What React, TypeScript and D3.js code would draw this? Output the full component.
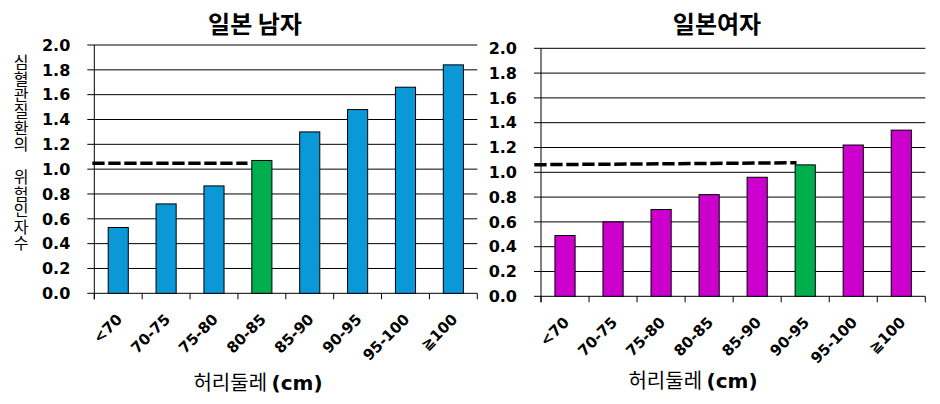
import React from "react";
import * as d3 from "d3";

const categories = ["<70", "70-75", "75-80", "80-85", "85-90", "90-95", "95-100", "≧100"];
const menValues = [0.53, 0.72, 0.865, 1.07, 1.30, 1.48, 1.66, 1.84];
const womenValues = [0.49, 0.60, 0.70, 0.82, 0.96, 1.06, 1.22, 1.34];
const menHighlight = "80-85";
const womenHighlight = "90-95";
const menRef = [1.048, 1.048];
const womenRef = [1.061, 1.077];
const yTicks = [0, 0.2, 0.4, 0.6, 0.8, 1.0, 1.2, 1.4, 1.6, 1.8, 2.0];
const yTitle = "심혈관질환의 위험인자수";

const BLUE = "#0A98D6";
const MAGENTA = "#CC00CC";
const GREEN = "#00AE4E";
const LATIN = "'DejaVu Sans', 'Noto Sans CJK KR', sans-serif";
const KR = "'Noto Sans CJK KR', 'DejaVu Sans', sans-serif";

type PanelProps = {
  x0: number; x1: number; yBase: number; yTop: number;
  values: number[]; color: string; highlight: string;
  ref2: number[]; refStartOff: number; refEndCat: string; refEndFrac: number;
  title: string; titleX: number; xTitleX: number; xTitleY: number;
};

function Panel(p: PanelProps) {
  const x = d3.scaleBand<string>().domain(categories).range([p.x0, p.x1]).paddingInner(0.58).paddingOuter(0.29);
  const xb = d3.scaleBand<string>().domain(categories).range([p.x0, p.x1]);
  const y = d3.scaleLinear().domain([0, 2]).range([p.yBase, p.yTop]);
  const boundaries = categories.map((c) => xb(c) as number).concat([p.x1]);
  const refX1 = (xb(p.refEndCat) as number) + xb.bandwidth() * p.refEndFrac;
  const refLine = d3.line<[number, number]>()([
    [p.x0 + p.refStartOff, y(p.ref2[0])],
    [refX1, y(p.ref2[1])],
  ]) as string;
  return (
    <g>
      <text x={p.titleX} y={33} textAnchor="middle" fontFamily={KR} fontWeight="bold" fontSize={24} fill="#000">{p.title}</text>
      {yTicks.map((t) => (
        <g key={t}>
          <line x1={p.x0 - 7} x2={p.x1} y1={y(t)} y2={y(t)} stroke="#000" strokeWidth={1} />
          <text x={p.x0 - 24} y={y(t)} dy="0.36em" textAnchor="end" fontFamily={LATIN} fontWeight="bold" fontSize={16} fill="#000">{t.toFixed(1)}</text>
        </g>
      ))}
      <line x1={p.x0} x2={p.x0} y1={p.yTop} y2={p.yBase + 6} stroke="#000" strokeWidth={1} />
      {boundaries.map((b, i) => (
        <line key={i} x1={b} x2={b} y1={p.yBase} y2={p.yBase + 6} stroke="#000" strokeWidth={1} />
      ))}
      {categories.map((c, i) => (
        <rect key={c} x={x(c)} y={y(p.values[i])} width={x.bandwidth()} height={p.yBase - y(p.values[i])}
          fill={c === p.highlight ? GREEN : p.color} stroke="#000" strokeWidth={1} />
      ))}
      <path d={refLine} stroke="#000" strokeWidth={3.5} strokeDasharray="12.3 3.7" fill="none" />
      {categories.map((c) => {
        const cx = (xb(c) as number) + xb.bandwidth() / 2 + 5;
        return (
          <text key={c} transform={`translate(${cx},${p.yBase + 27}) rotate(-45)`} textAnchor="end"
            fontFamily={LATIN} fontWeight="bold" fontSize={15} fill="#000">{c}</text>
        );
      })}
      <text x={p.xTitleX} y={p.xTitleY} textAnchor="middle" fontSize={20} fill="#000">
        <tspan fontFamily={KR}>허리둘레 </tspan>
        <tspan fontFamily={LATIN} fontWeight="bold">(cm)</tspan>
      </text>
    </g>
  );
}

export default function App() {
  return (
    <svg width={940} height={404} style={{ position: "absolute", left: 0, top: 0, background: "#fff" }}>
      <rect width={940} height={404} fill="#fff" />
      <text x={21} y={54} fontFamily={KR} fontSize={16} fill="#000"
        style={{ writingMode: "vertical-rl", textOrientation: "upright", letterSpacing: "0.45px" } as any}>
        {yTitle}
      </text>
      <Panel x0={94.3} x1={477.3} yBase={293.3} yTop={45} values={menValues} color={BLUE}
        highlight={menHighlight} ref2={menRef} refStartOff={-2} refEndCat="80-85" refEndFrac={0.2}
        title="일본 남자" titleX={255} xTitleX={258} xTitleY={390} />
      <Panel x0={541} x1={925.3} yBase={296.3} yTop={48.3} values={womenValues} color={MAGENTA}
        highlight={womenHighlight} ref2={womenRef} refStartOff={-6.7} refEndCat="90-95" refEndFrac={0.32}
        title="일본여자" titleX={717} xTitleX={693} xTitleY={388} />
    </svg>
  );
}
